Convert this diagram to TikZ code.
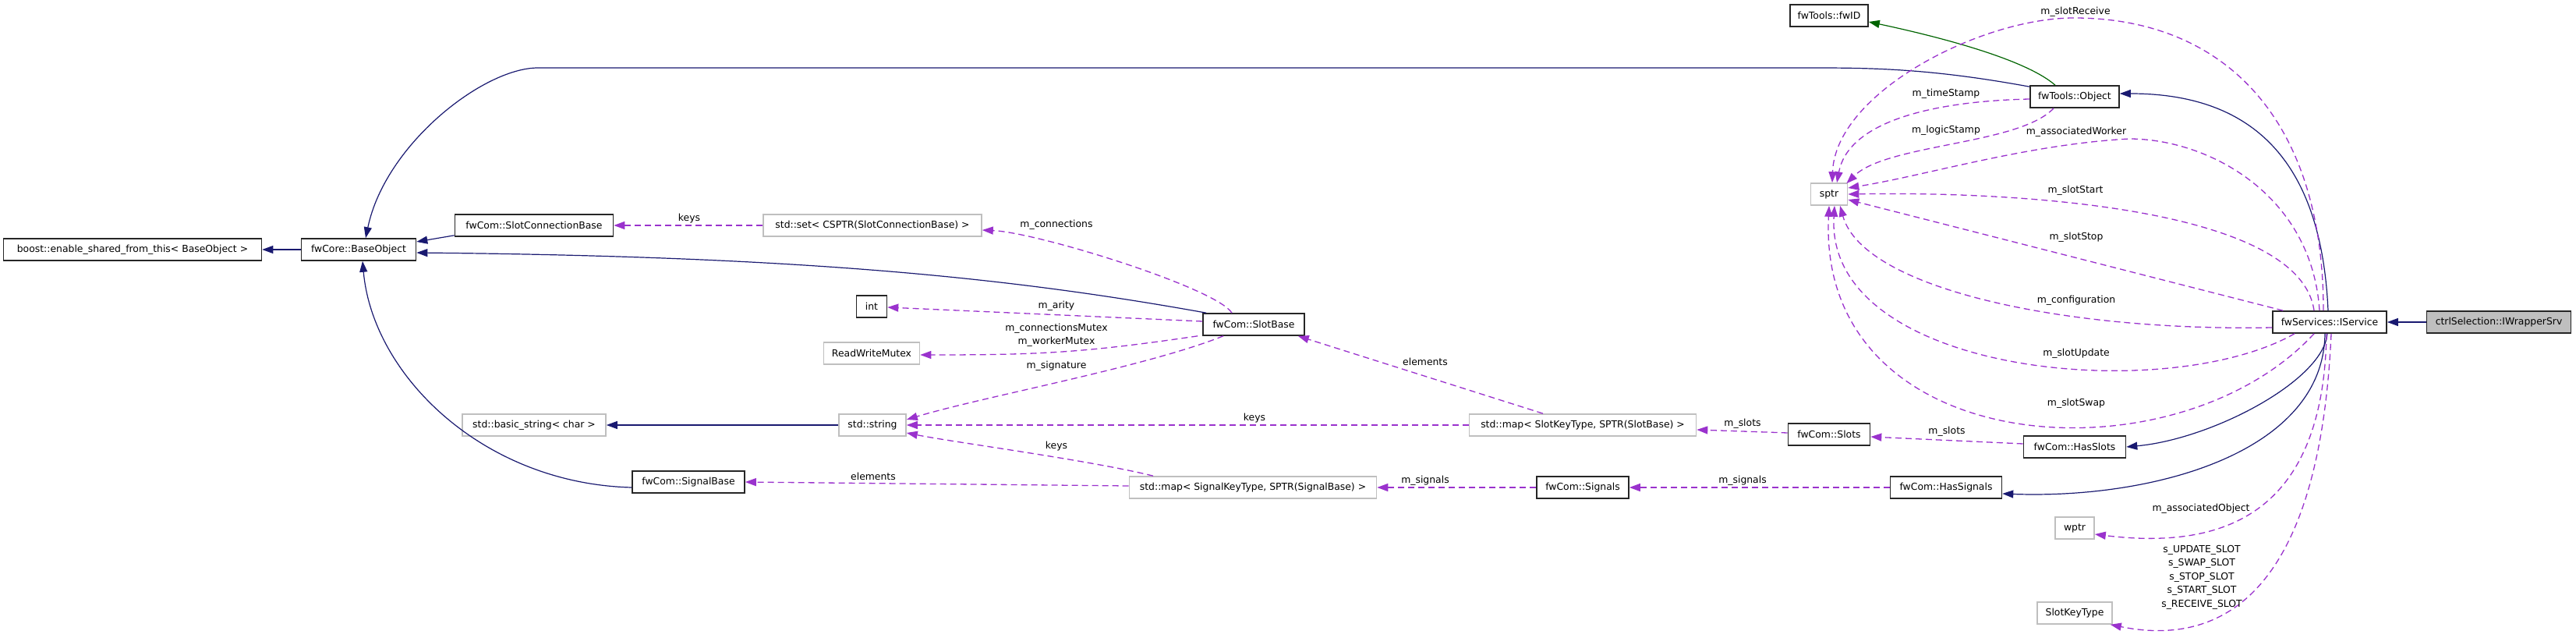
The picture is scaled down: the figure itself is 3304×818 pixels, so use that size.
\documentclass[tikz,border=0pt]{standalone}
\usepackage{fontspec}
\setmainfont{DejaVu Sans}
\usepackage{tikz}
\usetikzlibrary{arrows.meta, positioning}
\definecolor{edgenavy}{RGB}{25,25,112}
\definecolor{edgeorchid}{RGB}{154,50,205}
\definecolor{edgegreen}{RGB}{0,100,0}
\definecolor{boxgrey}{RGB}{191,191,191}
\tikzstyle{classbox}=[draw=black!85,line width=1.6pt,minimum height=28pt,inner sep=0pt,font=\fontsize{12.4}{15}\selectfont]
\tikzstyle{extbox}=[classbox,draw=boxgrey]
\tikzstyle{selbox}=[classbox,draw=black!85,fill=boxgrey]
\tikzstyle{inhedge}=[-{Triangle[length=14pt,width=10pt]},line width=1.2pt,draw=edgenavy]
\tikzstyle{useedge}=[-{Triangle[length=14pt,width=10pt]},line width=1.3pt,draw=edgeorchid,dash pattern=on 8pt off 5pt]
\tikzstyle{lbl}=[inner sep=0pt,align=center,font=\fontsize{12.4}{17.5}\selectfont]

\begin{document}
\begin{tikzpicture}[x=1pt,y=-1pt]
\useasboundingbox (0,0) rectangle (3304,818);
%\draw[step=100,gray,very thin] (0,0) grid (3304,818);
\node[classbox,minimum width=331pt] (boost) at (170,320) {boost::enable\_shared\_from\_this< BaseObject >};
\node[classbox,minimum width=147pt] (baseobj) at (460,320) {fwCore::BaseObject} edge[inhedge] (boost);
\node[classbox,minimum width=203pt] (slotconn) at (685,289) {fwCom::SlotConnectionBase};
\node[extbox,minimum width=280pt] (connset) at (1119,289) {std::set< CSPTR(SlotConnectionBase) >} edge[useedge] (slotconn);
\node[classbox,minimum width=39pt] (int) at (1118,393) {int};
\node[extbox,minimum width=123pt] (rwmutex) at (1118,453) {ReadWriteMutex};
\node[extbox,minimum width=184pt] (basicstr) at (685,545) {std::basic\_string< char >};
\node[extbox,minimum width=86pt] (stdstr) at (1119,545) {std::string} edge[inhedge] (basicstr);
\node[classbox,minimum width=130pt] (slotbase) at (1608,416) {fwCom::SlotBase};
\node[classbox,minimum width=144pt] (sigbase) at (883,618) {fwCom::SignalBase};
\node[extbox,minimum width=291pt] (slotmap) at (2030,545) {std::map< SlotKeyType, SPTR(SlotBase) >} edge[useedge] (stdstr);
\node[extbox,minimum width=317pt] (sigmap) at (1607,625) {std::map< SignalKeyType, SPTR(SignalBase) >};
\node[classbox,minimum width=105pt] (slots) at (2346,557) {fwCom::Slots};
\node[classbox,minimum width=118pt] (signals) at (2030,625) {fwCom::Signals} edge[useedge] (sigmap);
\node[classbox,minimum width=131pt] (hasslots) at (2661,573) {fwCom::HasSlots};
\node[classbox,minimum width=143pt] (hassignals) at (2496,625) {fwCom::HasSignals} edge[useedge] (signals);
\node[classbox,minimum width=100pt] (fwid) at (2346,20) {fwTools::fwID};
\node[classbox,minimum width=114pt] (object) at (2661,124) {fwTools::Object};
\node[extbox,minimum width=47pt] (sptr) at (2346,249) {sptr};
\node[extbox,minimum width=50pt] (wptr) at (2661,677) {wptr};
\node[extbox,minimum width=96pt] (slotkey) at (2661,786) {SlotKeyType};
\node[classbox,minimum width=146pt] (service) at (2988,413) {fwServices::IService};
\node[selbox,minimum width=185pt] (wrapper) at (3205,413) {ctrlSelection::IWrapperSrv} edge[inhedge] (service);

% inheritance
\draw[inhedge] ([shift={(0,-2)}]slotconn.south west) -- ([shift={(0,-10)}]baseobj.east);
\draw[inhedge] ([shift={(5,0)}]slotbase.north west) .. controls +(-250,-45) and +(500,5) .. ([shift={(0,4)}]baseobj.east);
\draw[inhedge] ([shift={(0,7)}]sigbase.west) .. controls +(-191,-5) and +(13,146) .. ([shift={(5,0)}]baseobj.south);
\draw[inhedge] ([shift={(0,2)}]object.north west) .. controls +(-120,-22) and +(80,0) .. (2330,87) -- (690,87) .. controls +(-70,0) and +(25,-120) .. ([shift={(9,0)}]baseobj.north);
\draw[inhedge,draw=edgegreen] ([shift={(-25,0)}]object.north) .. controls +(-40,-35) and +(80,17) .. ([shift={(0,8)}]fwid.east);
\draw[inhedge] ([shift={(-2,0)}]service.north) .. controls +(-8,-179) and +(182,0) .. ([shift={(0,-4)}]object.east);
\draw[inhedge] ([shift={(-3,0)}]service.south) .. controls +(-5,60) and +(110,-10) .. (hasslots.east);
\draw[inhedge] ([shift={(-6,0)}]service.south) .. controls +(-2,153) and +(193,7) .. ([shift={(0,8)}]hassignals.east);

% members
\draw[useedge] ([shift={(-28,0)}]slotbase.north) .. controls +(-20,-32) and +(71,3) .. ([shift={(0,6)}]connset.east);
\draw[useedge] ([shift={(0,-4)}]slotbase.west) -- ([shift={(0,1)}]int.east);
\draw[useedge] ([shift={(-6,0)}]slotbase.south west) .. controls +(-150,22) and +(150,0) .. ([shift={(0,2)}]rwmutex.east);
\draw[useedge] ([shift={(-39,0)}]slotbase.south) .. controls +(-100,40) and +(100,-30) .. ([shift={(0,-7)}]stdstr.east);
\draw[useedge] ([shift={(-128,0)}]sigmap.north) .. controls +(-80,-20) and +(60,12) .. ([shift={(0,10)}]stdstr.east);
\draw[useedge] ([shift={(-51,0)}]slotmap.north) -- ([shift={(-9,0)}]slotbase.south east);
\draw[useedge] ([shift={(0,-2)}]sigmap.west) -- (sigbase.east);
\draw[useedge] ([shift={(0,-2)}]slots.west) -- ([shift={(0,6)}]slotmap.east);
\draw[useedge] ([shift={(0,-4)}]hasslots.west) -- ([shift={(0,3)}]slots.east);

% sptr members
\draw[useedge] ([shift={(-8,0)}]service.north) .. controls +(0,-249) and +(190,0) .. (2660,23) .. controls +(-120,0) and +(4,-115) .. ([shift={(4,0)}]sptr.north);
\draw[useedge] ([shift={(0,3)}]object.west) .. controls +(-134,3) and +(14,-75) .. ([shift={(10,0)}]sptr.north);
\draw[useedge] ([shift={(-27,0)}]object.south) .. controls +(-44,47) and +(52,-51) .. ([shift={(-2,1)}]sptr.north east);
\draw[useedge] ([shift={(-13,0)}]service.north) .. controls +(-10,-150) and +(100,0) .. (2731,178) .. controls +(-131,7) and +(100,-16) .. ([shift={(0,-8)}]sptr.east);
\draw[useedge] ([shift={(-20,0)}]service.north) .. controls +(-18,-129) and +(230,-4) .. (sptr.east);
\draw[useedge] ([shift={(14,0)}]service.north west) -- ([shift={(0,7)}]sptr.east);
\draw[useedge] ([shift={(0,7)}]service.west) .. controls +(-265,5) and +(30,107) .. ([shift={(14,0)}]sptr.south);
\draw[useedge] ([shift={(-45,0)}]service.south) .. controls +(-163,93) and +(-13,217) .. ([shift={(7,0)}]sptr.south);
\draw[useedge] ([shift={(-20,0)}]service.south) .. controls +(-178,193) and +(-16,327) .. (sptr.south);
\draw[useedge] ([shift={(-4,0)}]service.south) .. controls +(-4,233) and +(164,20) .. ([shift={(0,8)}]wptr.east);
\draw[useedge] ([shift={(2,0)}]service.south) .. controls +(-15,333) and +(143,29) .. ([shift={(-3,0)}]slotkey.south east);

% labels
\node[lbl] at (884,280) {keys};
\node[lbl] at (1355,288) {m\_connections};
\node[lbl] at (1355,392) {m\_arity};
\node[lbl] at (1355,430) {m\_connectionsMutex\\m\_workerMutex};
\node[lbl] at (1355,469) {m\_signature};
\node[lbl] at (1609,536) {keys};
\node[lbl] at (1355,572) {keys};
\node[lbl] at (1828,464) {elements};
\node[lbl] at (1120,611) {elements};
\node[lbl] at (2235,543) {m\_slots};
\node[lbl] at (2497,553) {m\_slots};
\node[lbl] at (1828,616) {m\_signals};
\node[lbl] at (2235,616) {m\_signals};
\node[lbl] at (2662,15) {m\_slotReceive};
\node[lbl] at (2496,120) {m\_timeStamp};
\node[lbl] at (2496,167) {m\_logicStamp};
\node[lbl] at (2663,169) {m\_associatedWorker};
\node[lbl] at (2662,244) {m\_slotStart};
\node[lbl] at (2663,304) {m\_slotStop};
\node[lbl] at (2663,385) {m\_configuration};
\node[lbl] at (2663,453) {m\_slotUpdate};
\node[lbl] at (2663,517) {m\_slotSwap};
\node[lbl] at (2823,652) {m\_associatedObject};
\node[lbl] at (2824,740) {s\_UPDATE\_SLOT\\s\_SWAP\_SLOT\\s\_STOP\_SLOT\\s\_START\_SLOT\\s\_RECEIVE\_SLOT};
\end{tikzpicture}
\end{document}
